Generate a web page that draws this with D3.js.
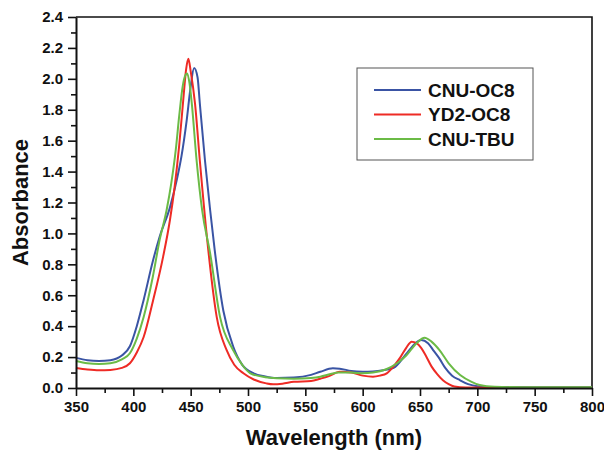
<!DOCTYPE html>
<html>
<head>
<meta charset="utf-8">
<script src="https://cdn.jsdelivr.net/npm/d3@7"></script>
<style>
  body { margin: 0; background: #fff; }
  svg text { font-family: "Liberation Sans", Arial, sans-serif; font-weight: bold; fill: #111; }
</style>
</head>
<body>
<div id="chart"></div>
<script>
// wavelength (nm) / absorbance pairs
const seriesNames = ['CNU-OC8', 'YD2-OC8', 'CNU-TBU'];
const seriesColors = ['#3a54a4', '#ee2b25', '#6bbb46'];

const cnuOc8 = [
  [350, 0.195], [360, 0.18], [370, 0.175], [380, 0.18], [390, 0.21], [397, 0.27],
  [403, 0.40], [409, 0.57], [417, 0.82], [423, 0.98], [432, 1.17], [438, 1.35],
  [442, 1.50], [446.5, 1.73], [450, 1.95], [453, 2.07], [456, 2.01], [458, 1.84],
  [462.5, 1.47], [467, 1.15], [471, 0.89], [478.5, 0.50], [487, 0.27], [495, 0.15],
  [505, 0.095], [515, 0.075], [525, 0.065], [540, 0.068], [555, 0.085], [563, 0.105],
  [574, 0.127], [580, 0.125], [590, 0.11], [600, 0.105], [609, 0.107], [618, 0.115],
  [627, 0.13], [638, 0.22], [646, 0.29], [651, 0.31], [657, 0.29], [662, 0.24],
  [667, 0.19], [672, 0.13], [678, 0.08], [685, 0.05], [692, 0.025], [700, 0.012],
  [720, 0.006], [750, 0.005], [800, 0.005]
];
const yd2Oc8 = [
  [350, 0.13], [360, 0.12], [370, 0.115], [380, 0.117], [390, 0.13], [397, 0.16],
  [403, 0.23], [409, 0.33], [417, 0.56], [426, 0.85], [432, 1.09], [436, 1.30],
  [440, 1.57], [443.5, 1.86], [446, 2.06], [448, 2.13], [450, 2.05], [453.8, 1.84],
  [458, 1.47], [465.4, 0.89], [472.7, 0.46], [481.4, 0.245], [488, 0.15], [496, 0.095],
  [505, 0.055], [516, 0.03], [522, 0.024], [530, 0.028], [540, 0.04], [555, 0.045],
  [563, 0.06], [570, 0.075], [580, 0.105], [590, 0.1], [600, 0.08], [609, 0.073],
  [615, 0.08], [621, 0.095], [628, 0.15], [633, 0.2], [638, 0.26], [642.7, 0.30],
  [647, 0.29], [651, 0.26], [655, 0.21], [660, 0.14], [665, 0.09], [670, 0.05],
  [675, 0.025], [680, 0.01], [690, 0.004], [720, 0.002], [800, 0.002]
];
const cnuTbu = [
  [350, 0.175], [360, 0.16], [370, 0.155], [380, 0.16], [390, 0.185], [397, 0.225],
  [403, 0.32], [409, 0.46], [417, 0.72], [423, 0.96], [429, 1.15], [433, 1.32],
  [437, 1.54], [440, 1.76], [443, 1.95], [445.5, 2.025], [447, 2.035], [449, 1.97],
  [451, 1.84], [455.2, 1.47], [460, 1.15], [467, 0.87], [475.6, 0.46], [487, 0.245],
  [495, 0.15], [502, 0.095], [515, 0.07], [525, 0.063], [540, 0.06], [555, 0.065],
  [563, 0.073], [572, 0.09], [579, 0.10], [590, 0.1], [600, 0.095], [609, 0.1],
  [620, 0.12], [630, 0.16], [638, 0.21], [647, 0.29], [654, 0.325], [660, 0.30],
  [667, 0.245], [675, 0.16], [685, 0.084], [695, 0.04], [702, 0.02], [715, 0.008],
  [740, 0.005], [800, 0.005]
];
const allSeries = [cnuOc8, yd2Oc8, cnuTbu];

const xTicks = [350, 400, 450, 500, 550, 600, 650, 700, 750, 800];
const yTicks = [0.0, 0.2, 0.4, 0.6, 0.8, 1.0, 1.2, 1.4, 1.6, 1.8, 2.0, 2.2, 2.4];

const width = 604;
const height = 450;
const margin = { top: 17, right: 12, bottom: 62, left: 76 };

const svg = d3.select('#chart')
  .append('svg')
  .attr('width', width)
  .attr('height', height);

const x = d3.scaleLinear()
  .domain([350, 800])
  .range([margin.left, width - margin.right]);

const y = d3.scaleLinear()
  .domain([0, 2.4])
  .range([height - margin.bottom, margin.top]);

// frame: top and right edges
svg.append('path')
  .attr('d', `M${x(350)},${y(2.4)}H${x(800)}V${y(0)}`)
  .attr('fill', 'none')
  .attr('stroke', '#111')
  .attr('stroke-width', 1.6);

// curves
const line = d3.line()
  .x(d => x(d[0]))
  .y(d => y(d[1]))
  .curve(d3.curveMonotoneX);

svg.selectAll('.spectrum')
  .data(allSeries)
  .enter().append('path')
  .attr('class', 'spectrum')
  .attr('d', line)
  .attr('fill', 'none')
  .attr('stroke', (d, i) => seriesColors[i])
  .attr('stroke-width', 2);

// minor ticks first, then main axes on top
const xMinor = d3.range(375, 800, 50);
const yMinor = d3.range(0.1, 2.4, 0.2);

svg.append('g')
  .attr('transform', `translate(0,${y(0)})`)
  .call(d3.axisBottom(x).tickValues(xMinor).tickSize(5).tickFormat(''))
  .call(g => g.select('.domain').remove())
  .call(g => g.selectAll('line').attr('stroke', '#111').attr('stroke-width', 1.6));

svg.append('g')
  .attr('transform', `translate(${x(350)},0)`)
  .call(d3.axisLeft(y).tickValues(yMinor).tickSize(5).tickFormat(''))
  .call(g => g.select('.domain').remove())
  .call(g => g.selectAll('line').attr('stroke', '#111').attr('stroke-width', 1.6));

const xAxis = svg.append('g')
  .attr('transform', `translate(0,${y(0)})`)
  .call(d3.axisBottom(x).tickValues(xTicks).tickSize(8).tickSizeOuter(0).tickPadding(5).tickFormat(d3.format('d')));

const yAxis = svg.append('g')
  .attr('transform', `translate(${x(350)},0)`)
  .call(d3.axisLeft(y).tickValues(yTicks).tickSize(8).tickSizeOuter(0).tickPadding(5).tickFormat(d3.format('.1f')));

[xAxis, yAxis].forEach(ax => {
  ax.select('.domain').attr('stroke', '#111').attr('stroke-width', 2);
  ax.selectAll('line').attr('stroke', '#111').attr('stroke-width', 1.6);
  ax.selectAll('text')
    .style('font-size', '15px')
    .style('font-family', '"Liberation Sans", Arial, sans-serif')
    .style('font-weight', 'bold')
    .attr('fill', '#111');
});

// axis titles
svg.append('text')
  .attr('x', (x(350) + x(800)) / 2)
  .attr('y', 445)
  .attr('text-anchor', 'middle')
  .style('font-size', '22px')
  .text('Wavelength (nm)');

svg.append('text')
  .attr('transform', `translate(28,${(y(0) + y(2.4)) / 2}) rotate(-90)`)
  .attr('text-anchor', 'middle')
  .style('font-size', '22px')
  .text('Absorbance');

// legend
const legend = svg.append('g').attr('transform', 'translate(357,68)');
legend.append('rect')
  .attr('width', 176)
  .attr('height', 92)
  .attr('fill', '#fff')
  .attr('stroke', '#555')
  .attr('stroke-width', 1);

seriesNames.forEach((name, i) => {
  const row = legend.append('g').attr('transform', `translate(0,${22 + i * 24.5})`);
  row.append('line')
    .attr('x1', 17).attr('x2', 64)
    .attr('stroke', seriesColors[i])
    .attr('stroke-width', 2);
  row.append('text')
    .attr('x', 71)
    .attr('dy', '0.35em')
    .style('font-size', '19px')
    .text(name);
});
</script>
</body>
</html>
